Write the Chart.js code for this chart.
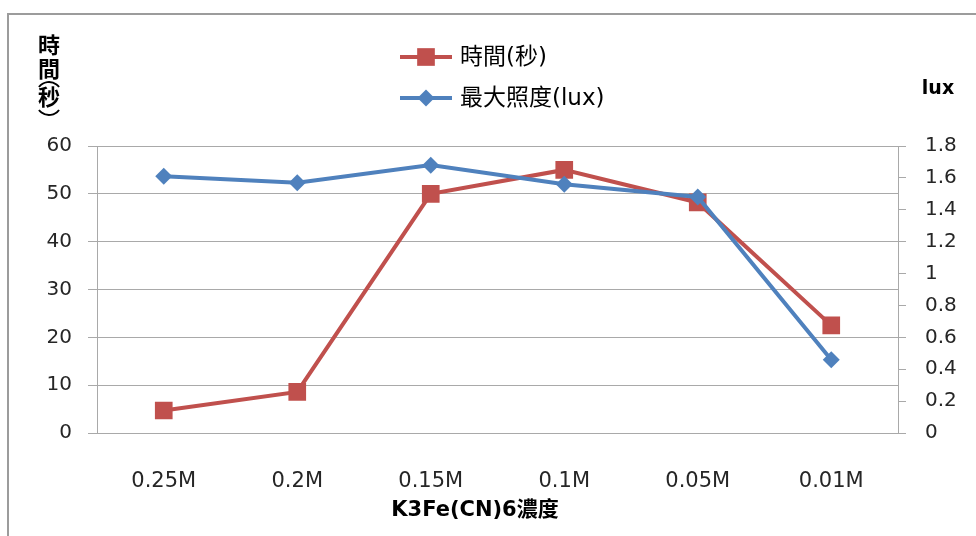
<!DOCTYPE html>
<html>
<head>
<meta charset="utf-8">
<script src="https://cdn.jsdelivr.net/npm/chart.js@4/dist/chart.umd.min.js"></script>
<style>
  body { margin: 0; background: #fff; }
  canvas { display: block; }
</style>
</head>
<body>
<canvas id="chart" width="976" height="536"></canvas>
<script>
// 자료
const categories = ['0.25M', '0.2M', '0.15M', '0.1M', '0.05M', '0.01M']
const timeSec = [4.7, 8.6, 50, 55, 48.2, 22.5]
const maxLux = [1.61, 1.57, 1.68, 1.56, 1.48, 0.46]
const timeTicks = [0, 60, 10]     // min, max, step
const luxTicks = [0, 1.8, 0.2]

const RED = '#c0504d'
const BLUE = '#4f81bd'
const GRID = '#a9a9a9'
const TXT = '#262626'
const FONT = '"DejaVu Sans", "Noto Sans CJK TC", sans-serif'
const CJK = '"Noto Sans CJK TC", "DejaVu Sans", sans-serif'

// 제목, 범례, 테두리
const extras = {
    id: 'extras',
    afterDraw(chart){
        const ctx = chart.ctx
        ctx.save()

        // 바깥 테두리
        ctx.strokeStyle = '#9c9c9c'
        ctx.lineWidth = 2
        ctx.beginPath()
        ctx.moveTo(8, 536)
        ctx.lineTo(8, 14)
        ctx.lineTo(976, 14)
        ctx.stroke()

        ctx.fillStyle = '#000'
        ctx.textAlign = 'center'
        ctx.textBaseline = 'middle'

        // 왼쪽 축 제목 (세로쓰기, 괄호는 가로 호)
        ctx.font = 'bold 22px ' + CJK
        ctx.fillText('時', 49, 45)
        ctx.fillText('間', 49, 69)
        ctx.fillText('秒', 49, 97)
        ctx.strokeStyle = '#000'
        ctx.lineWidth = 2
        const a = 0.93
        ctx.beginPath(); ctx.arc(49, 94.5, 12.5, -Math.PI / 2 - a, -Math.PI / 2 + a); ctx.stroke()
        ctx.beginPath(); ctx.arc(49, 102.5, 12.5, Math.PI / 2 - a, Math.PI / 2 + a); ctx.stroke()

        // 오른쪽 축 제목
        ctx.font = 'bold 19px ' + FONT
        ctx.fillText('lux', 938, 89)

        // x축 제목
        ctx.font = 'bold 21px ' + FONT
        ctx.fillText('K3Fe(CN)6濃度', 475, 511)

        // 범례
        const rows = [
            { ds: chart.data.datasets[0], y: 57 },
            { ds: chart.data.datasets[1], y: 98 }
        ]
        rows.forEach(r => {
            ctx.strokeStyle = r.ds.borderColor
            ctx.lineWidth = r.ds.borderWidth
            ctx.beginPath()
            ctx.moveTo(400, r.y)
            ctx.lineTo(452, r.y)
            ctx.stroke()
            ctx.fillStyle = r.ds.backgroundColor
            ctx.beginPath()
            if (r.ds.pointStyle === 'rect') {
                const s = r.ds.pointRadius * Math.SQRT1_2
                ctx.rect(426 - s, r.y - s, 2 * s, 2 * s)
            } else {
                const s = r.ds.pointRadius
                ctx.moveTo(426, r.y - s); ctx.lineTo(426 + s, r.y)
                ctx.lineTo(426, r.y + s); ctx.lineTo(426 - s, r.y)
                ctx.closePath()
            }
            ctx.fill()
            ctx.fillStyle = '#000'
            ctx.textAlign = 'left'
            ctx.font = '23px ' + FONT
            ctx.fillText(r.ds.label, 460, r.y + 1)
        })

        ctx.restore()
    }
}

new Chart(document.getElementById('chart'), {
    type: 'line',
    data: {
        labels: categories,
        datasets: [
            {
                label: '時間(秒)',
                data: timeSec,
                yAxisID: 'y',
                borderColor: RED,
                backgroundColor: RED,
                borderWidth: 4,
                pointStyle: 'rect',
                pointRadius: 12.5,
                pointBorderWidth: 0,
                order: 1
            },
            {
                label: '最大照度(lux)',
                data: maxLux,
                yAxisID: 'y1',
                borderColor: BLUE,
                backgroundColor: BLUE,
                borderWidth: 4,
                pointStyle: 'rectRot',
                pointRadius: 8.5,
                pointBorderWidth: 0,
                order: 0
            }
        ]
    },
    options: {
        responsive: false,
        animation: false,
        events: [],
        layout: { padding: { top: 146, left: 0, right: 0, bottom: 0 } },
        plugins: { legend: { display: false }, tooltip: { enabled: false } },
        scales: {
            x: {
                offset: true,
                grid: { display: false },
                border: { display: true, color: GRID },
                ticks: { color: TXT, font: { family: FONT, size: 21 }, padding: 28, maxRotation: 0, autoSkip: false },
                afterFit: s => { s.height = 103 }
            },
            y: {
                position: 'left',
                min: timeTicks[0],
                max: timeTicks[1],
                grid: { color: GRID, tickLength: 9 },
                border: { color: GRID },
                ticks: { stepSize: timeTicks[2], color: TXT, font: { family: FONT, size: 20 }, padding: 16 },
                afterFit: s => { s.width = 97 }
            },
            y1: {
                position: 'right',
                min: luxTicks[0],
                max: luxTicks[1],
                grid: { drawOnChartArea: false, color: GRID, tickLength: 8 },
                border: { color: GRID },
                ticks: {
                    stepSize: luxTicks[2], color: TXT, font: { family: FONT, size: 20 }, padding: 19,
                    callback: v => String(Number(v.toFixed(1)))
                },
                afterFit: s => { s.width = 78 }
            }
        }
    },
    plugins: [extras]
})
</script>
</body>
</html>
